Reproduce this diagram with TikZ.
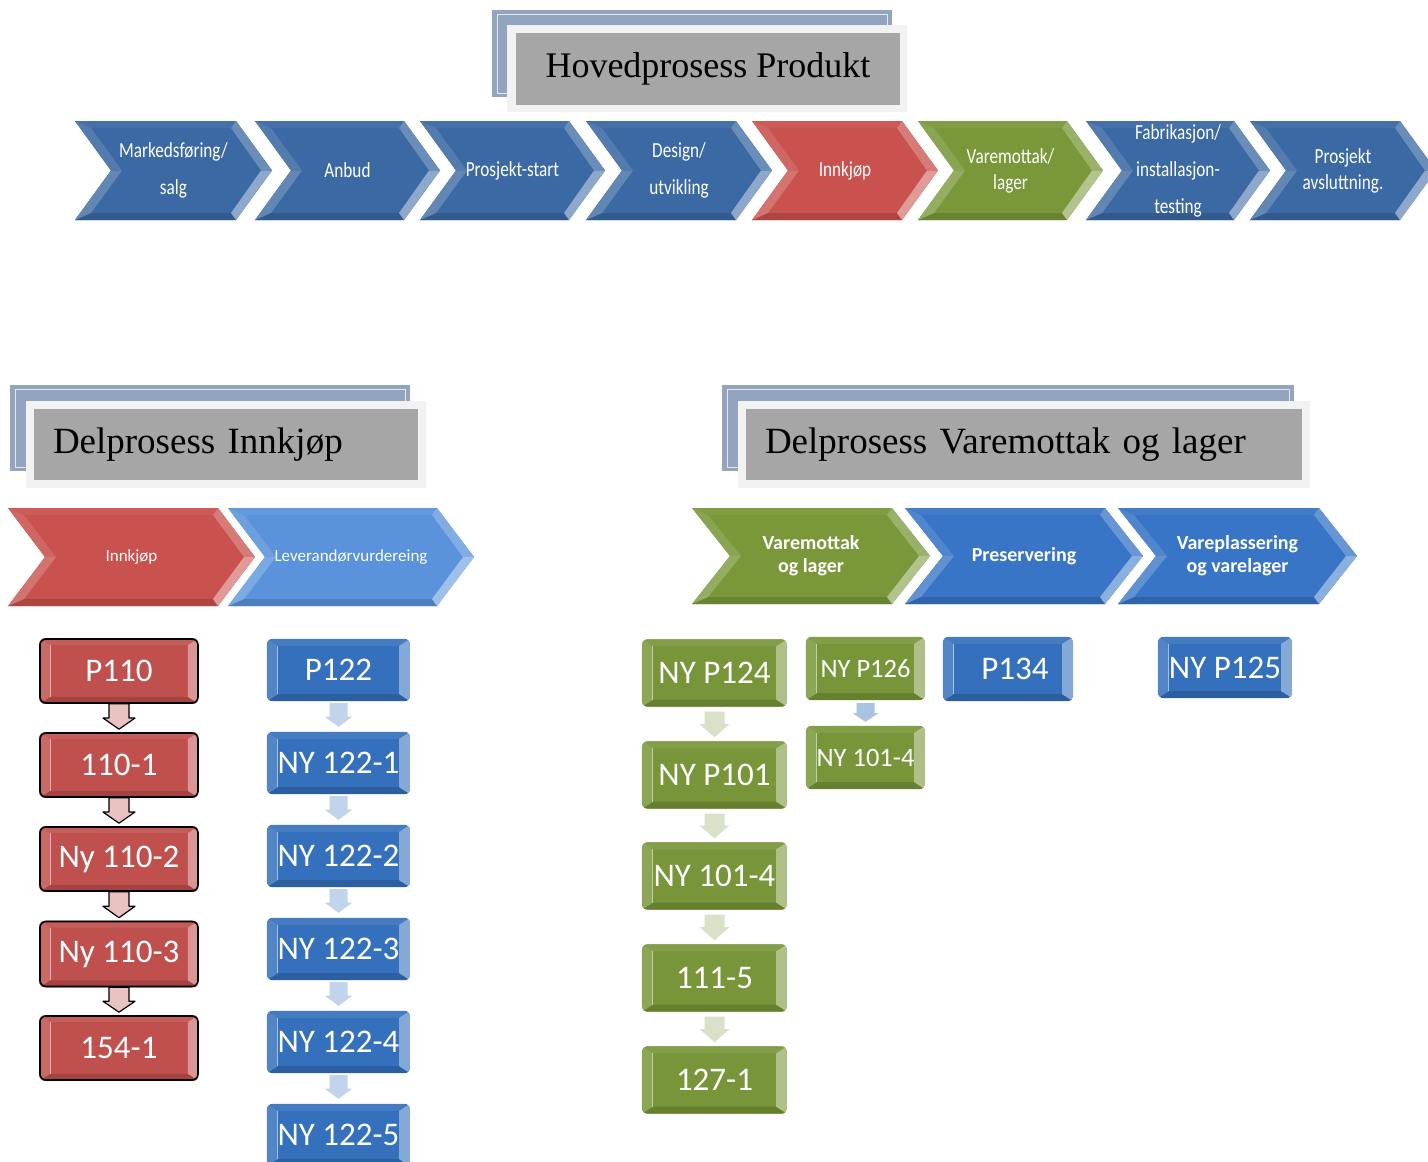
\documentclass[tikz,border=0pt]{standalone}
\usepackage{fontspec}
\setmainfont{Liberation Serif}
\newfontfamily\carl{Carlito}
\newfontfamily\carlc[FakeStretch=0.8]{Carlito}
\usetikzlibrary{calc,backgrounds}

\definecolor{topblue}{HTML}{3B69A3}
\definecolor{topred}{HTML}{C9514E}
\definecolor{topgreen}{HTML}{7A983A}
\definecolor{lightblue}{HTML}{5A93DB}
\definecolor{midblue}{HTML}{3875C6}
\definecolor{boxred}{HTML}{C0504D}
\definecolor{boxblue}{HTML}{3470BC}
\definecolor{boxgreen}{HTML}{789639}
\definecolor{titleback}{HTML}{93A5BE}
\definecolor{framegray}{HTML}{F2F2F2}
\definecolor{titlegray}{HTML}{A6A6A6}

\tikzset{
  tchev/.style={text=white, inner sep=0pt, align=center, font=\carlc\fontsize{21.5}{37}\selectfont},
  tchevtight/.style={tchev, font=\carlc\fontsize{21.5}{26}\selectfont},
  subchev/.style={text=white, inner sep=0pt, align=center, font=\carl\fontsize{17}{20}\selectfont},
  boldchev/.style={text=white, inner sep=0pt, align=center, font=\carl\bfseries\fontsize{20}{23}\selectfont},
  boxlabel/.style={inner sep=0pt, text=white, rounded corners=6pt, font=\carl\fontsize{33}{36}\selectfont},
  redbox/.style={draw=black, line width=1.6pt},
  smalltext/.style={font=\carl\fontsize{26.5}{30}\selectfont},
  titlebox/.style={fill=titlegray, inner sep=0pt, text=black, font=\fontsize{36}{40}\selectfont},
  subtitle/.style={titlebox, font=\fontsize{37}{40}\selectfont, align=left, inner xsep=19pt},
  redarrow/.style={fill=boxred!35!white, draw=black, line width=1.2pt, line join=round},
  bluearrow/.style={fill=boxblue!30!white},
  greenarrow/.style={fill=boxgreen!28!white},
  smallarrow/.style={fill=boxblue!42!white},
}

\newcommand\chevd{36}
% chevron: name, left x, tip x, top y, bottom y, colour, text style, text
\newcommand\chev[8]{%
  \pgfmathsetmacro\cym{(#4+#5)/2}%
  \fill[#6] (#2,#4) -- ({#3-\chevd},#4) -- (#3,\cym) -- ({#3-\chevd},#5) -- (#2,#5) -- ({#2+\chevd},\cym) -- cycle;
  \fill[#6!95!white] (#2,#4) -- ({#3-\chevd},#4) -- ({#3-\chevd-5},{#4+7}) -- ({#2+16},{#4+7}) -- cycle;
  \fill[#6!86!black] (#2,#5) -- ({#3-\chevd},#5) -- ({#3-\chevd-5},{#5-7}) -- ({#2+16},{#5-7}) -- cycle;
  \fill[#6!76!white] ({#3-\chevd},#4) -- (#3,\cym) -- ({#3-11},\cym) -- ({#3-\chevd-5},{#4+7}) -- cycle;
  \fill[#6!58!white] ({#3-\chevd},#5) -- (#3,\cym) -- ({#3-11},\cym) -- ({#3-\chevd-5},{#5-7}) -- cycle;
  \fill[#6!88!white] (#2,#4) -- ({#2+\chevd},\cym) -- ({#2+\chevd+11},\cym) -- ({#2+16},{#4+7}) -- cycle;
  \fill[#6!80!white] (#2,#5) -- ({#2+\chevd},\cym) -- ({#2+\chevd+11},\cym) -- ({#2+16},{#5-7}) -- cycle;
  \node[#7] (#1) at ({(#2+#3)/2},\cym) {#8};
}

% bevelled box: name, centre x, centre y, width, height, colour, text, extra style
\newcommand\bbox[8]{%
  \node[boxlabel, minimum width=#4, minimum height=#5, #8] (#1) at (#2,#3) {#7};
  \begin{scope}[on background layer]
    \begin{scope}
      \clip[rounded corners=6pt] (#1.south west) rectangle (#1.north east);
      \fill[#6] (#1.south west) rectangle (#1.north east);
      \fill[#6!92!white] (#1.north west) -- (#1.north east) -- ($(#1.north east)+(-11pt,-7pt)$) -- ($(#1.north west)+(11pt,-7pt)$) -- cycle;
      \fill[#6!85!black] (#1.south west) -- (#1.south east) -- ($(#1.south east)+(-11pt,7pt)$) -- ($(#1.south west)+(11pt,7pt)$) -- cycle;
      \fill[#6!85!white] (#1.north west) -- ($(#1.north west)+(11pt,-7pt)$) -- ($(#1.south west)+(11pt,7pt)$) -- (#1.south west) -- cycle;
      \fill[#6!60!white] (#1.north east) -- ($(#1.north east)+(-11pt,-7pt)$) -- ($(#1.south east)+(-11pt,7pt)$) -- (#1.south east) -- cycle;
      \draw[#6!45!white, line width=1.2pt] ($(#1.north west)+(11pt,-7pt)$) -- ($(#1.south west)+(11pt,7pt)$);
    \end{scope}
  \end{scope}
}

% block arrow between two stacked boxes: from, to, style, shaft half, head half, top gap, bottom gap
\newcommand\darrow[7]{%
  \path[#3] let \p1=(#1.south), \p2=(#2.north) in
    (\x1-#4pt,\y1-#6pt) -- (\x1-#4pt,{(\y1+\y2)/2}) -- (\x1-#5pt,{(\y1+\y2)/2}) --
    (\x1,\y2+#7pt) -- (\x1+#5pt,{(\y1+\y2)/2}) -- (\x1+#4pt,{(\y1+\y2)/2}) -- (\x1+#4pt,\y1-#6pt) -- cycle;
}

\begin{document}
\begin{tikzpicture}[x=1pt,y=-1pt]
\useasboundingbox (0,0) rectangle (1428,1162);
\begin{scope}[on background layer]
  \fill[white] (0,0) rectangle (1428,1162);
\end{scope}

% ---------- main process title ----------
\fill[titleback] (492,10) rectangle (892,97);
\draw[white!75!titleback, line width=1pt] (497,14) rectangle (887,93);
\fill[framegray] (507,25) rectangle (907,112);
\node[titlebox, minimum width=384, minimum height=72] (hovedtitle) at (708,69) {Hovedprosess Produkt};

% ---------- main process chain ----------
\chev{markeds}{75}{272}{121}{220}{topblue}{tchev}{Markedsføring/\\salg}
\chev{anbud}{255}{440}{121}{220}{topblue}{tchev}{Anbud}
\chev{prosstart}{420}{605}{121}{220}{topblue}{tchev}{Prosjekt-start}
\chev{design}{586}{772}{121}{220}{topblue}{tchev}{Design/\\utvikling}
\chev{innkjop}{752}{938}{121}{220}{topred}{tchev}{Innkjøp}
\chev{varemottak}{918}{1103}{121}{220}{topgreen}{tchevtight}{Varemottak/\\lager}
\chev{fabrik}{1086}{1270}{121}{220}{topblue}{tchev}{Fabrikasjon/\\installasjon-\\testing}
\chev{avslutt}{1250}{1436}{121}{220}{topblue}{tchevtight}{Prosjekt\\avsluttning.}

% ---------- sub process: purchasing ----------
\fill[titleback] (10,385) rectangle (410,471);
\draw[white!75!titleback, line width=1pt] (15,389) rectangle (405,467);
\fill[framegray] (26,401) rectangle (426,488);
\node[subtitle, minimum width=384, minimum height=71, text width=346] (innkjoptitle) at (226,444.5) {Delprosess Innkjøp};

\renewcommand\chevd{37}
\chev{subinnkjop}{8}{255}{508}{606}{topred}{subchev}{Innkjøp}
\chev{leverandor}{228}{474}{508}{606}{lightblue}{subchev}{Leverandørvurdereing}

% ---------- sub process: goods receipt and storage ----------
\fill[titleback] (722,385) rectangle (1294,471);
\draw[white!75!titleback, line width=1pt] (727,389) rectangle (1289,467);
\fill[framegray] (738,401) rectangle (1310,488);
\node[subtitle, minimum width=556, minimum height=71, text width=518] (varetitle) at (1024,444.5) {Delprosess Varemottak og lager};

\renewcommand\chevd{38}
\chev{subvare}{692}{930}{508}{604}{topgreen}{boldchev}{Varemottak\\og lager}
\chev{preserv}{905}{1143}{508}{604}{midblue}{boldchev}{Preservering}
\chev{vareplass}{1118}{1357}{508}{604}{midblue}{boldchev}{Vareplassering\\og varelager}

% ---------- purchasing procedures ----------
\bbox{p110}{119}{671}{158}{64}{boxred}{P110}{redbox}
\bbox{r1101}{119}{765}{158}{64}{boxred}{110-1}{redbox}
\bbox{r1102}{119}{859}{158}{64}{boxred}{Ny 110-2}{redbox}
\bbox{r1103}{119}{954}{158}{65}{boxred}{Ny 110-3}{redbox}
\bbox{r1541}{119}{1048}{158}{64}{boxred}{154-1}{redbox}
\darrow{p110}{r1101}{redarrow}{10}{16}{0}{3}
\darrow{r1101}{r1102}{redarrow}{10}{16}{0}{3}
\darrow{r1102}{r1103}{redarrow}{10}{16}{0}{3}
\darrow{r1103}{r1541}{redarrow}{10}{16}{0}{3}

% ---------- supplier evaluation procedures ----------
\bbox{p122}{338.5}{670}{143}{62}{boxblue}{P122}{}
\bbox{b1221}{338.5}{763}{143}{62}{boxblue}{NY 122-1}{}
\bbox{b1222}{338.5}{856}{143}{62}{boxblue}{NY 122-2}{}
\bbox{b1223}{338.5}{949}{143}{62}{boxblue}{NY 122-3}{}
\bbox{b1224}{338.5}{1042}{143}{62}{boxblue}{NY 122-4}{}
\bbox{b1225}{338.5}{1135}{143}{62}{boxblue}{NY 122-5}{}
\darrow{p122}{b1221}{bluearrow}{9}{14}{2}{5}
\darrow{b1221}{b1222}{bluearrow}{9}{14}{2}{5}
\darrow{b1222}{b1223}{bluearrow}{9}{14}{2}{5}
\darrow{b1223}{b1224}{bluearrow}{9}{14}{2}{5}
\darrow{b1224}{b1225}{bluearrow}{9}{14}{2}{5}

% ---------- goods receipt procedures ----------
\bbox{p124}{714.5}{673}{145}{67}{boxgreen}{NY P124}{}
\bbox{p101}{714.5}{775}{145}{67}{boxgreen}{NY P101}{}
\bbox{g1014}{714.5}{876}{145}{67}{boxgreen}{NY 101-4}{}
\bbox{g1115}{714.5}{978}{145}{67}{boxgreen}{111-5}{}
\bbox{g1271}{714.5}{1080}{145}{67}{boxgreen}{127-1}{}
\darrow{p124}{p101}{greenarrow}{10}{15}{5}{4}
\darrow{p101}{g1014}{greenarrow}{10}{15}{5}{4}
\darrow{g1014}{g1115}{greenarrow}{10}{15}{5}{4}
\darrow{g1115}{g1271}{greenarrow}{10}{15}{5}{4}

\bbox{p126}{865.5}{668.5}{119}{63}{boxgreen}{NY P126}{smalltext}
\bbox{g1014b}{865.5}{757.5}{119}{63}{boxgreen}{NY 101-4}{smalltext}
\darrow{p126}{g1014b}{smallarrow}{9}{13}{3}{4}

% ---------- preservation and storage procedures ----------
\bbox{p134}{1008}{669}{130}{64}{boxblue}{\hspace*{14pt}P134}{}
\bbox{p125}{1225}{667.5}{134}{61}{boxblue}{NY P125}{}
\end{tikzpicture}
\end{document}
